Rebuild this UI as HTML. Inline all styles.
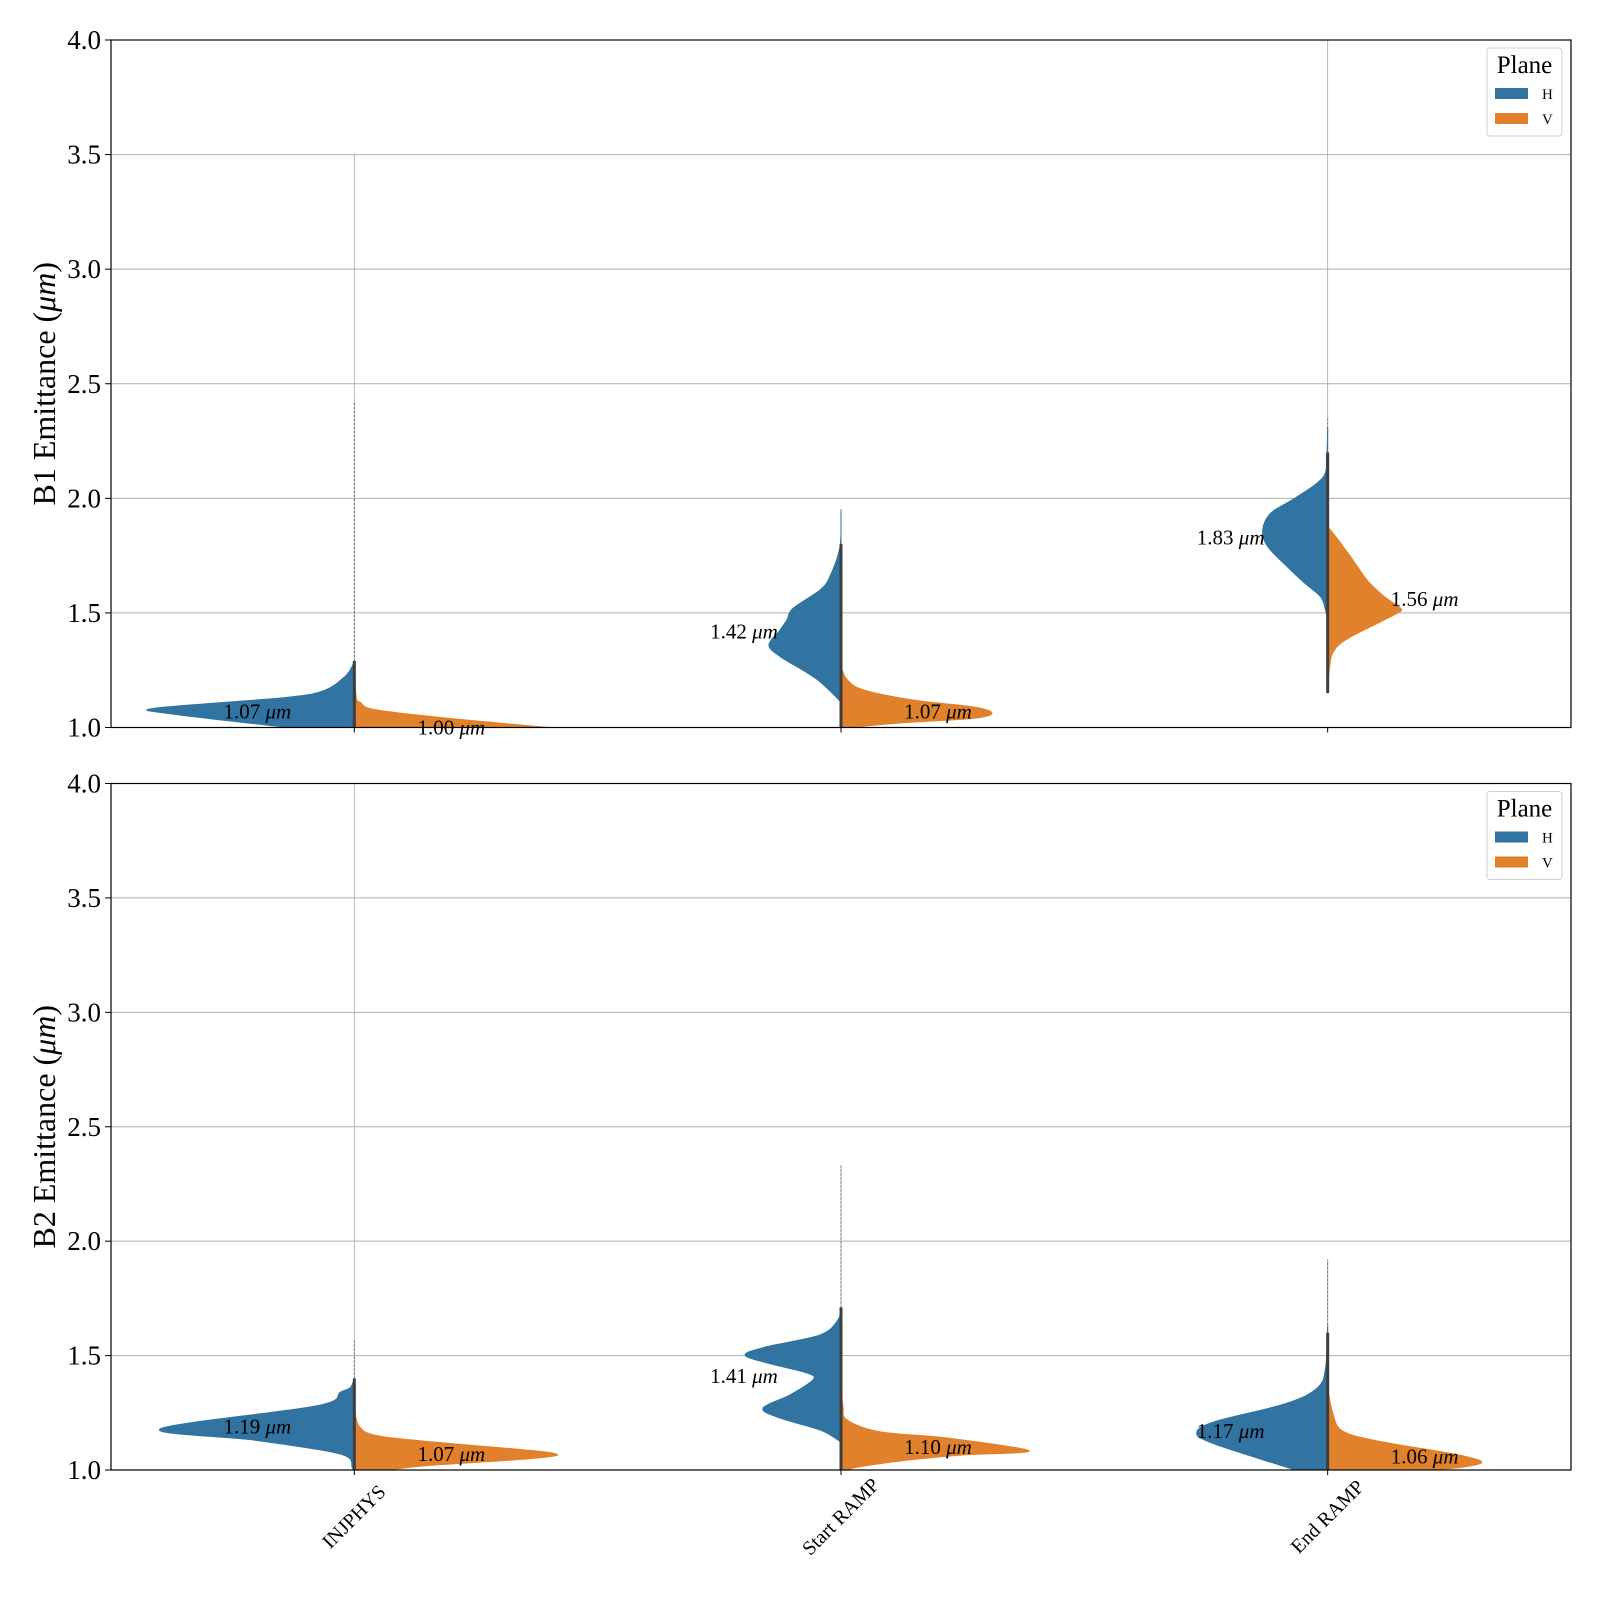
<!DOCTYPE html>
<html><head><meta charset="utf-8"><style>
html,body{margin:0;padding:0;background:#fff}
svg{display:block;font-family:"Liberation Serif",serif}
</style></head><body>
<svg id="chart" width="1600" height="1600" viewBox="0 0 1600 1600">
<defs>
<clipPath id="clip0"><rect x="111" y="40" width="1460" height="687.5"/></clipPath>
<clipPath id="clip1"><rect x="111" y="783.5" width="1460" height="686.5"/></clipPath>
</defs>
</svg>
<script>
const categories = ["INJPHYS", "Start RAMP", "End RAMP"];
const planes = ["H", "V"];
const panelTitles = ["B1 Emittance (\u03bcm)", "B2 Emittance (\u03bcm)"];
const yTicks = [1.0, 1.5, 2.0, 2.5, 3.0, 3.5, 4.0];
// medians printed on violins [panel][category][plane]
const medians = [[[1.07, 1.00], [1.42, 1.07], [1.83, 1.56]], [[1.19, 1.07], [1.41, 1.10], [1.17, 1.06]]];
// data extents: [min, denseTop, sparseTop, max]
const extents = [[[1.0, 1.29, 2.42, 3.5], [1.0, 1.8, 1.95, 1.95], [1.15, 2.2, 2.35, 4.0]], [[1.0, 1.40, 1.57, 4.0], [1.0, 1.71, 2.33, 2.33], [1.0, 1.6, 1.92, 1.92]]];
// density profiles [value, density]
const b1InjH = [[1.29,0],[1.26,0.03],[1.22,0.10],[1.16,0.31],[1.13,0.71],[1.085,1.98],[1.06,1.84],[1.0,0.66]];
const b1InjV = [[1.25,0],[1.13,0.02],[1.11,0.06],[1.08,0.18],[1.05,0.72],[1.02,1.43],[1.0,1.94]];
const b1StartH = [[1.95,0],[1.79,0.01],[1.66,0.11],[1.60,0.21],[1.52,0.48],[1.47,0.54],[1.425,0.61],[1.36,0.72],[1.31,0.61],[1.25,0.38],[1.21,0.24],[1.16,0.11],[1.12,0.02],[1.11,0]];
const b1StartV = [[1.265,0],[1.21,0.06],[1.165,0.22],[1.12,0.72],[1.09,1.32],[1.063,1.51],[1.04,1.32],[1.02,0.6],[1.0,0.1]];
const b1EndH = [[2.31,0],[2.18,0.01],[2.09,0.05],[2.0,0.33],[1.935,0.57],[1.86,0.65],[1.79,0.60],[1.70,0.40],[1.63,0.23],[1.57,0.07],[1.51,0.02],[1.47,0]];
const b1EndV = [[1.875,0],[1.85,0.05],[1.745,0.23],[1.64,0.40],[1.57,0.57],[1.52,0.73],[1.50,0.70],[1.455,0.50],[1.38,0.17],[1.325,0.05],[1.265,0.02],[1.18,0]];
const b2InjH = [[1.40,0],[1.36,0.04],[1.34,0.14],[1.28,0.38],[1.18,1.94],[1.13,0.99],[1.07,0.14],[1.01,0.02],[1.0,0.01]];
const b2InjV = [[1.27,0],[1.19,0.05],[1.15,0.23],[1.12,0.85],[1.075,1.97],[1.05,1.77],[1.02,0.75],[1.0,0.34]];
const b2StartH = [[1.714,0],[1.656,0.03],[1.59,0.21],[1.539,0.74],[1.503,0.96],[1.468,0.74],[1.424,0.34],[1.394,0.28],[1.328,0.51],[1.27,0.78],[1.227,0.61],[1.175,0.21],[1.131,0.03],[1.12,0]];
const b2StartV = [[1.364,0],[1.277,0.02],[1.219,0.06],[1.167,0.39],[1.14,1.06],[1.084,1.88],[1.065,1.2],[1.04,0.6],[1.015,0.2],[1.0,0.05]];
const b2EndH = [[1.63,0],[1.45,0.02],[1.36,0.10],[1.29,0.42],[1.21,1.14],[1.16,1.31],[1.115,1.14],[1.027,0.52],[1.0,0.32]];
const b2EndV = [[1.36,0],[1.25,0.05],[1.17,0.15],[1.125,0.52],[1.07,1.26],[1.036,1.54],[1.013,1.36],[1.0,1.04]];
const profiles = [[[b1InjH,b1InjV],[b1StartH,b1StartV],[b1EndH,b1EndV]],[[b2InjH,b2InjV],[b2StartH,b2StartV],[b2EndH,b2EndV]]];

const NS = "http://www.w3.org/2000/svg";
const svg = document.getElementById("chart");
const panels = [{top:40,bottom:727.5},{top:783.5,bottom:1470}];
const X0 = 111, X1 = 1571, yMin = 1.0, yMax = 4.0;
const colors = ["#3274a1", "#e1812c"];
const DENS = 100;
function xCat(i){ return X0 + (X1 - X0) * (i + 0.5) / categories.length; }
function yScale(p, v){ const P = panels[p]; return P.bottom - (v - yMin) / (yMax - yMin) * (P.bottom - P.top); }
function mk(tag, attrs, parent){ const e = document.createElementNS(NS, tag); for (const k in attrs) e.setAttribute(k, attrs[k]); (parent || svg).appendChild(e); return e; }
function smoothPath(pts){
  let d = "M" + pts[0][0] + "," + pts[0][1];
  for (let i = 0; i < pts.length - 1; i++) {
    const p0 = pts[Math.max(0, i-1)], p1 = pts[i], p2 = pts[i+1], p3 = pts[Math.min(pts.length-1, i+2)];
    const c1x = p1[0] + (p2[0]-p0[0])/6, c1y = p1[1] + (p2[1]-p0[1])/6;
    const c2x = p2[0] - (p3[0]-p1[0])/6, c2y = p2[1] - (p3[1]-p1[1])/6;
    d += " C" + c1x + "," + c1y + " " + c2x + "," + c2y + " " + p2[0] + "," + p2[1];
  }
  return d;
}

panels.forEach((P, p) => {
  const g = mk("g", {});
  
  
  yTicks.forEach(t => {
    const y = yScale(p, t);
    const gl = mk("line", {x1:X0, x2:X1, y1:y, y2:y, stroke:"#b0b0b0", "stroke-width":1}, g);
    
    
    const tk = mk("line", {x1:X0-6, x2:X0, y1:y, y2:y, stroke:"#000", "stroke-width":1}, g);
    
    
    const tl = mk("text", {x:X0-10, y:y+9, "text-anchor":"end", "font-size":27}, g);
    tl.textContent = t.toFixed(1);
    
    
  });
  const vg = mk("g", {"clip-path":"url(#clip" + p + ")"}, g);
  categories.forEach((c, i) => {
    const cx = xCat(i);
    const ex = extents[p][i];
    const st = mk("line", {x1:cx, x2:cx, y1:yScale(p, ex[0]), y2:yScale(p, ex[3]), stroke:"#aaa", "stroke-width":0.8}, vg);
    
    
    const sp = mk("line", {x1:cx, x2:cx, y1:yScale(p, ex[1]), y2:yScale(p, ex[2]), stroke:"#666", "stroke-width":1, "stroke-dasharray":"2 2"}, vg);
    
    
    planes.forEach((pl, k) => {
      const prof = profiles[p][i][k];
      const sgn = k === 0 ? -1 : 1;
      const pts = prof.map(pt => [cx + sgn * pt[1] * DENS, yScale(p, pt[0])]);
      let d = "M" + cx + "," + pts[0][1] + " L" + smoothPath(pts).slice(1);
      d += " L" + cx + "," + pts[pts.length-1][1] + " Z";
      const v = mk("path", {d:d, fill:colors[k], stroke:colors[k], "stroke-width":1, "stroke-linejoin":"round"}, vg);
      
      
    });
    const inner = mk("line", {x1:cx, x2:cx, y1:yScale(p, ex[0]), y2:yScale(p, ex[1]), stroke:"#3d3d3d", "stroke-width":3}, vg);
    
    
    planes.forEach((pl, k) => {
      const m = medians[p][i][k];
      const lb = mk("text", {x:cx + (k === 0 ? -97 : 97), y:yScale(p, m) + 7, "text-anchor":"middle", "font-size":21}, g);
      lb.innerHTML = m.toFixed(2) + ' <tspan font-style="italic">\u03bcm</tspan>';
      
      
    });
    const xt = mk("line", {x1:cx, x2:cx, y1:P.bottom, y2:P.bottom+5, stroke:"#000", "stroke-width":1}, g);
    
    
    if (p === 1) {
      const xl = mk("text", {x:cx, y:1523, "text-anchor":"middle", "font-size":20, transform:"rotate(-45 " + cx + " 1517)"}, g);
      xl.textContent = c;
      
      
    }
  });
  const frame = mk("rect", {x:X0, y:P.top, width:X1-X0, height:P.bottom-P.top, fill:"none", stroke:"#000", "stroke-width":1.2}, g);
  
  
  const my = (P.top + P.bottom) / 2;
  const yt = mk("text", {x:0, y:0, "text-anchor":"middle", "font-size":32, transform:"translate(55 " + my + ") rotate(-90)"}, g);
  yt.innerHTML = panelTitles[p].replace("(\u03bcm)", '(<tspan font-style="italic">\u03bcm</tspan>)');
  
  
  const lg = mk("g", {transform:"translate(0 " + (P.top - 40) + ")"}, g);
  
  
  mk("rect", {x:1487, y:48, width:75, height:88, rx:3, fill:"#fff", stroke:"#d0d0d0", "stroke-width":1}, lg);
  const lt = mk("text", {x:1524.5, y:73, "text-anchor":"middle", "font-size":25}, lg);
  lt.textContent = "Plane";
  
  
  planes.forEach((pl, k) => {
    const e = mk("g", {}, lg);
    
    
    mk("rect", {x:1495, y:88 + k*25, width:33, height:11, fill:colors[k]}, e);
    const t = mk("text", {x:1542, y:99 + k*25, "font-size":15}, e);
    t.textContent = pl;
  });
});
</script>
</body></html>
